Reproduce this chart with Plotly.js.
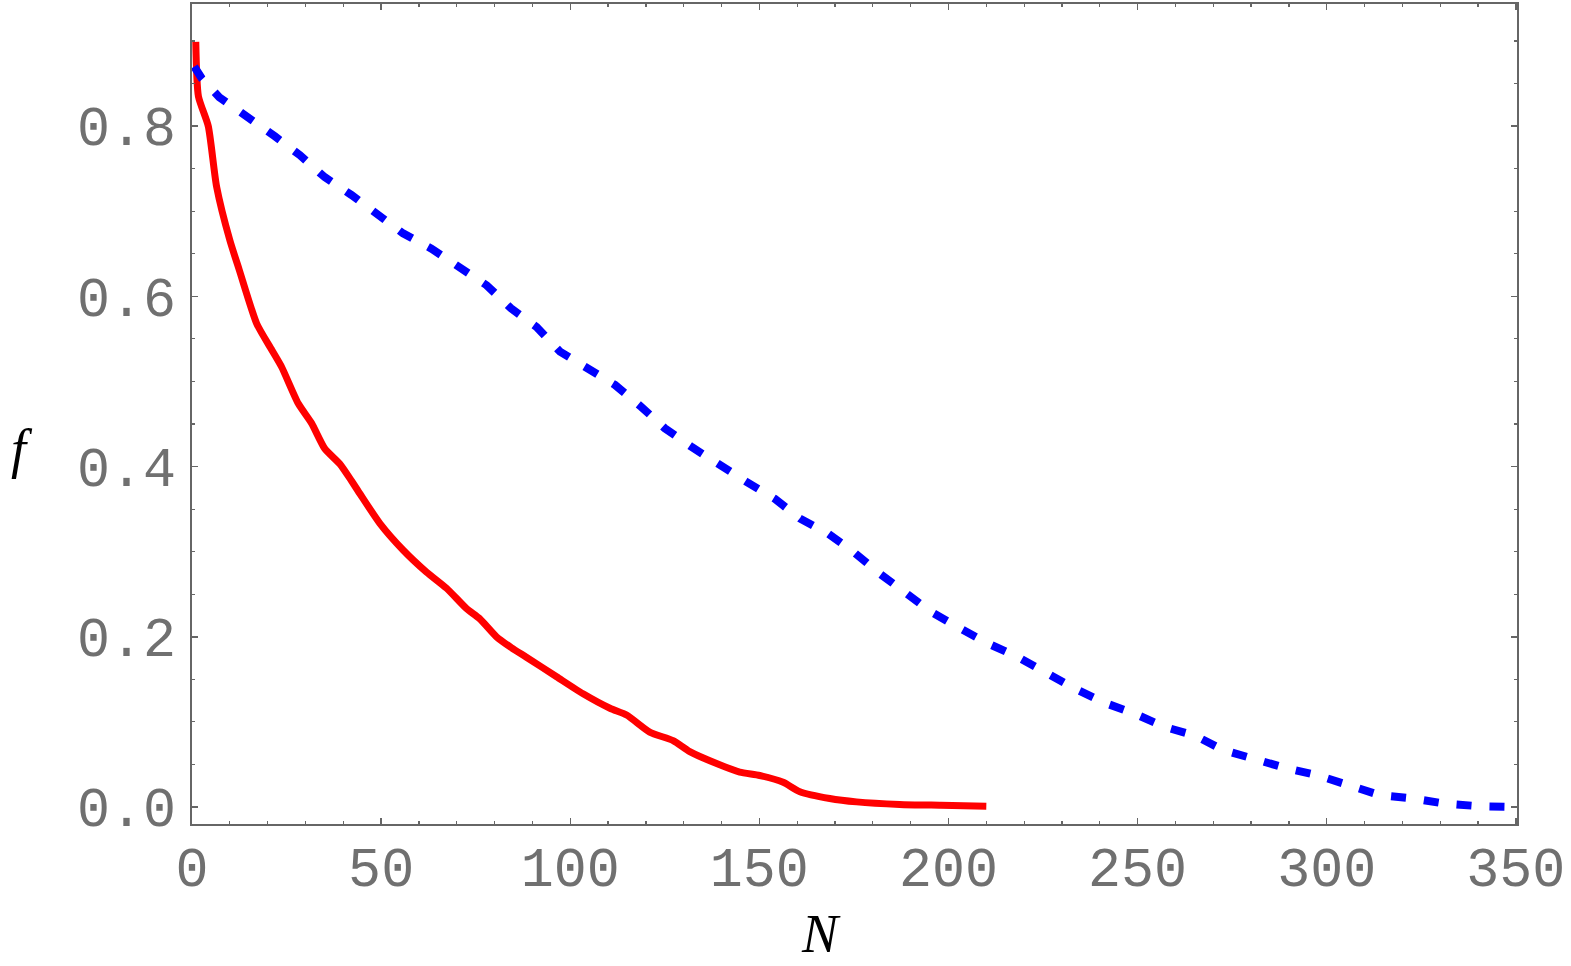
<!DOCTYPE html>
<html>
<head>
<meta charset="utf-8">
<script src="https://cdn.plot.ly/plotly-3.0.1.min.js"></script>
<style>
html, body { margin: 0; padding: 0; background: #fff; }
#chart { width: 1571px; height: 966px; }
</style>
</head>
<body>
<div id="chart"></div>
<script>
// Red solid curve
const redN = [1, 1.7, 4.3, 6.5, 10, 12.5, 17.1, 21.1, 23.7, 28.1, 31.6, 35.1, 39.1, 42.2, 44.4, 49.7, 55.8, 62, 67.3, 72.6, 76.1, 80.5, 84.5, 88.4, 96.4, 103.4, 110.5, 114.9, 121, 127.2, 131.6, 138.7, 144.8, 150.1, 156.3, 160.7, 168.6, 175.7, 187.1, 198, 210];
const redF = [0.899, 0.835, 0.800, 0.729, 0.666, 0.631, 0.568, 0.537, 0.517, 0.474, 0.451, 0.421, 0.403, 0.383, 0.368, 0.333, 0.302, 0.276, 0.257, 0.233, 0.221, 0.200, 0.187, 0.176, 0.153, 0.133, 0.116, 0.108, 0.088, 0.078, 0.065, 0.051, 0.041, 0.037, 0.029, 0.018, 0.010, 0.006, 0.003, 0.002, 0.001];
// Blue dashed curve
const blueN = [0.6, 2.6, 7.2, 14.9, 21.9, 28.5, 35.1, 42.2, 49.2, 55.8, 63.3, 70.4, 77.9, 84.3, 91.1, 97.3, 104.7, 111.8, 118.8, 125, 132.1, 139.1, 146.6, 154.1, 160.7, 168.2, 174.8, 181.9, 188.4, 195.5, 203, 210.5, 218.4, 225.8, 233.4, 240.9, 249, 257.2, 265.1, 272.6, 281, 289, 297.7, 305.6, 314, 322.8, 331.2, 340, 350];
const blueF = [0.870, 0.856, 0.834, 0.811, 0.788, 0.766, 0.740, 0.719, 0.697, 0.674, 0.656, 0.635, 0.613, 0.586, 0.564, 0.535, 0.515, 0.496, 0.470, 0.445, 0.423, 0.402, 0.382, 0.362, 0.339, 0.321, 0.300, 0.274, 0.253, 0.229, 0.210, 0.192, 0.176, 0.157, 0.139, 0.123, 0.110, 0.094, 0.084, 0.067, 0.056, 0.046, 0.037, 0.026, 0.014, 0.010, 0.004, 0.001, 0.0];
// Tick values / labels
const xTicks = [0, 50, 100, 150, 200, 250, 300, 350];
const xTickText = ["0", "50", "100", "150", "200", "250", "300", "350"];
const yTicks = [0, 0.2, 0.4, 0.6, 0.8];
const yTickText = ["0.0", "0.2", "0.4", "0.6", "0.8"];
const xLabel = "N";
const yLabel = "f";

const tickFont = {family: "Liberation Mono, DejaVu Sans Mono, monospace", size: 55, color: "#707070"};
const axisCommon = {
  showgrid: false, zeroline: false, showline: true, linecolor: "#666666", linewidth: 2,
  mirror: "allticks", ticks: "inside", ticklen: 6, tickwidth: 1.5, tickcolor: "#666666",
  tickfont: tickFont
};

const traces = [
  {x: redN, y: redF, type: "scatter", mode: "lines",
   line: {color: "#ff0000", width: 7, shape: "spline", smoothing: 0.6}, hoverinfo: "skip"},
  {x: blueN, y: blueF, type: "scatter", mode: "lines",
   line: {color: "#0000ff", width: 8, dash: "15px,18px"}, hoverinfo: "skip"}
];

const layout = {
  width: 1571, height: 966,
  margin: {l: 192, r: 54, t: 4, b: 142},
  paper_bgcolor: "#ffffff", plot_bgcolor: "#ffffff",
  showlegend: false,
  xaxis: Object.assign({}, axisCommon, {
    range: [0, 350.3], tickmode: "array", tickvals: xTicks, ticktext: xTickText,
    ticklabelstandoff: -6,
    minor: {dtick: 10, ticks: "inside", ticklen: 3, tickwidth: 1.2, tickcolor: "#666666", showgrid: false}
  }),
  yaxis: Object.assign({}, axisCommon, {
    range: [-0.02, 0.9435], tickmode: "array", tickvals: yTicks, ticktext: yTickText,
    ticklabelstandoff: 3,
    minor: {dtick: 0.05, ticks: "inside", ticklen: 3, tickwidth: 1.2, tickcolor: "#666666", showgrid: false}
  }),
  annotations: [
    {text: xLabel, xref: "paper", yref: "paper", x: 0.4747, y: -0.1345, xanchor: "center", yanchor: "middle",
     showarrow: false, font: {family: "Liberation Serif, Times New Roman, serif", size: 54, color: "#000000", style: "italic"}},
    {text: yLabel, xref: "paper", yref: "paper", x: -0.128, y: 0.457, xanchor: "center", yanchor: "middle",
     showarrow: false, font: {family: "Liberation Serif, Times New Roman, serif", size: 54, color: "#000000", style: "italic"}}
  ]
};

Plotly.newPlot("chart", traces, layout, {staticPlot: true, displayModeBar: false});
</script>
</body>
</html>
